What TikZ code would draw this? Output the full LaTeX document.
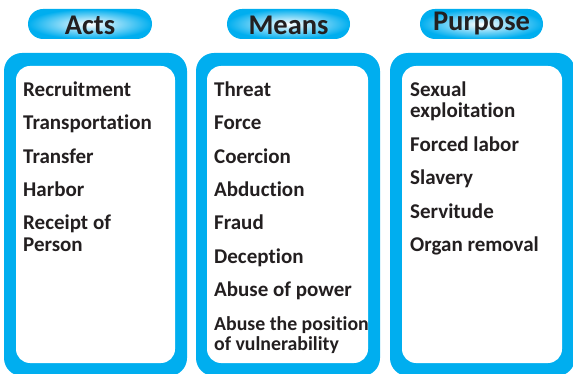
\documentclass[tikz,border=0pt]{standalone}
\usepackage{fontspec}
\setmainfont{Carlito}[Ligatures={NoCommon}]
\definecolor{cy}{HTML}{00AEEF}
\definecolor{ink}{HTML}{231F20}
\newcommand\twoline[2]{\vtop{\hbox{#1}\hbox{#2}}}
\begin{document}
\begin{tikzpicture}[x=1pt,y=-1pt,
  head/.style={anchor=base, font=\fontsize{28.5}{30}\selectfont\bfseries, text=ink, inner sep=0},
  item/.style={anchor=base west, font=\fontsize{21}{21}\selectfont\bfseries, text=ink, inner sep=0},
  outerbox/.style={fill=cy, rounded corners=18pt},
  innerbox/.style={fill=white, rounded corners=14pt},
  pill/.style={rounded corners=15pt, inner color=white, outer color=cy}]
\useasboundingbox (0,0) rectangle (573,374);

% header pills
\shade[pill] (28,9) rectangle (152,39);
\shade[pill] (227,9) rectangle (350,39);
\shade[pill] (420,9) rectangle (543,39);
\node[head] (hacts) at (90,35) {Acts};
\node[head] (hmeans) at (288.5,34.5) {Means};
\node[head] (hpurpose) at (481.5,30.5) {Purpose};

% boxes
\fill[outerbox] (4,53) rectangle (187,376);
\fill[innerbox] (16,66) rectangle (175,363);
\fill[outerbox] (196,53) rectangle (380,376);
\fill[innerbox] (207,66) rectangle (368,363);
\fill[outerbox] (390,53) rectangle (575,376);
\fill[innerbox] (402,66) rectangle (562,363);

% Acts
\node[item] (a1) at (23,96.7) {Recruitment};
\node[item] (a2) at (23,130) {Transportation};
\node[item] (a3) at (23,163.3) {Transfer};
\node[item] (a4) at (23,196.7) {Harbor};
\node[item] (a5) at (23,230) {\twoline{Receipt of}{Person}};

% Means
\node[item] (m1) at (214,96.7) {Threat};
\node[item] (m2) at (214,130) {Force};
\node[item] (m3) at (214,163.3) {Coercion};
\node[item] (m4) at (214,196.7) {Abduction};
\node[item] (m5) at (214,230) {Fraud};
\node[item] (m6) at (214,263.3) {Deception};
\node[item] (m7) at (214,296.7) {Abuse of power};
\node[item, font=\fontsize{19.8}{20.5}\selectfont\bfseries] (m8) at (214,330) {\twoline{Abuse the position}{of vulnerability}};

% Purpose
\node[item] (p1) at (410,96.7) {\twoline{Sexual}{exploitation}};
\node[item] (p2) at (410,151.7) {Forced labor};
\node[item] (p3) at (410,185) {Slavery};
\node[item] (p4) at (410,218.3) {Servitude};
\node[item] (p5) at (410,251.7) {Organ removal};
\end{tikzpicture}
\end{document}
